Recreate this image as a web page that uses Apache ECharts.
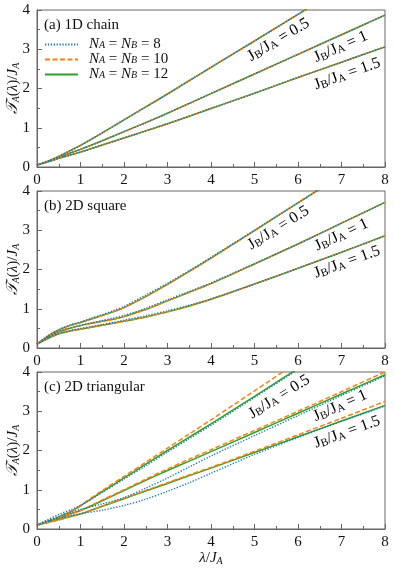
<!DOCTYPE html>
<html>
<head>
<meta charset="utf-8">
<script src="https://cdn.jsdelivr.net/npm/echarts@6/dist/echarts.min.js"></script>
<style>
html, body { margin: 0; padding: 0; background: #fff; }
#chart { width: 394px; height: 573px; }
</style>
</head>
<body>
<div id="chart"></div>
<script>
// x grids (lambda / J_A)
const xChain = [0, 0.25, 0.5, 0.75, 1, 1.5, 2, 2.5, 3, 4, 5, 6, 7, 8]
const xSquare = [0, 0.25, 0.5, 0.75, 1, 1.25, 1.5, 1.75, 2, 2.5, 3, 3.5, 4, 5, 6, 7, 8]
const xTri = [0, 0.25, 0.5, 0.8, 1, 1.5, 2, 2.5, 3, 3.5, 4, 5, 6, 7, 8]

// (a) 1D chain - the three system sizes lie on top of each other
const chainJ05 = [0.05, 0.15, 0.27, 0.41, 0.55, 0.87, 1.2, 1.53, 1.86, 2.54, 3.21, 3.89, 4.57, 5.25]
const chainJ1 = [0.05, 0.14, 0.24, 0.35, 0.45, 0.67, 0.9, 1.13, 1.37, 1.87, 2.37, 2.87, 3.37, 3.87]
const chainJ15 = [0.05, 0.13, 0.22, 0.3, 0.38, 0.56, 0.74, 0.92, 1.1, 1.49, 1.88, 2.28, 2.67, 3.06]

// (b) 2D square
const sqJ05_N12 = [0.1, 0.3, 0.46, 0.57, 0.65, 0.74, 0.83, 0.92, 1.03, 1.31, 1.62, 1.95, 2.29, 2.99, 3.7, 4.4, 5.1]
const sqJ05_N8 = [0.1, 0.31, 0.47, 0.58, 0.66, 0.76, 0.85, 0.95, 1.06, 1.35, 1.65, 1.97, 2.31, 3.0, 3.7, 4.4, 5.1]
const sqJ1_N12 = [0.1, 0.27, 0.41, 0.5, 0.57, 0.63, 0.68, 0.73, 0.8, 0.98, 1.2, 1.42, 1.64, 2.14, 2.65, 3.18, 3.71]
const sqJ1_N8 = [0.1, 0.28, 0.42, 0.51, 0.58, 0.64, 0.7, 0.76, 0.83, 1.01, 1.23, 1.44, 1.66, 2.15, 2.65, 3.18, 3.71]
const sqJ15_N12 = [0.1, 0.24, 0.36, 0.43, 0.48, 0.53, 0.58, 0.63, 0.68, 0.79, 0.92, 1.07, 1.24, 1.63, 2.03, 2.44, 2.86]
const sqJ15_N8 = [0.1, 0.25, 0.37, 0.44, 0.5, 0.55, 0.6, 0.65, 0.71, 0.82, 0.95, 1.09, 1.25, 1.63, 2.03, 2.44, 2.86]

// (c) 2D triangular
const triJ05_N8 = [0.1, 0.24, 0.37, 0.5, 0.6, 0.93, 1.27, 1.61, 1.96, 2.3, 2.64, 3.35, 4.06, 4.77, 5.48]
const triJ05_N10 = [0.1, 0.19, 0.29, 0.45, 0.6, 0.98, 1.34, 1.7, 2.06, 2.42, 2.78, 3.52, 4.26, 5.0, 5.74]
const triJ05_N12 = [0.1, 0.2, 0.31, 0.46, 0.59, 0.95, 1.3, 1.65, 2.0, 2.34, 2.68, 3.38, 4.09, 4.8, 5.5]
const triJ1_N8 = [0.1, 0.21, 0.32, 0.43, 0.5, 0.64, 0.8, 1.04, 1.3, 1.58, 1.86, 2.38, 2.89, 3.4, 3.9]
const triJ1_N10 = [0.1, 0.18, 0.27, 0.39, 0.47, 0.74, 1.0, 1.27, 1.53, 1.78, 2.02, 2.51, 3.0, 3.5, 4.0]
const triJ1_N12 = [0.1, 0.19, 0.28, 0.4, 0.47, 0.72, 0.98, 1.24, 1.49, 1.73, 1.97, 2.46, 2.95, 3.44, 3.93]
const triJ15_N8 = [0.1, 0.19, 0.27, 0.35, 0.39, 0.48, 0.6, 0.76, 0.96, 1.18, 1.42, 1.9, 2.33, 2.74, 3.13]
const triJ15_N10 = [0.1, 0.16, 0.23, 0.32, 0.38, 0.58, 0.78, 0.98, 1.18, 1.38, 1.57, 1.98, 2.4, 2.82, 3.25]
const triJ15_N12 = [0.1, 0.17, 0.24, 0.33, 0.38, 0.58, 0.77, 0.97, 1.16, 1.36, 1.55, 1.95, 2.35, 2.75, 3.15]

const panelTitles = ['(a) 1D chain', '(b) 2D square', '(c) 2D triangular']
const ratioLabels = ['0.5', '1', '1.5']
// label anchor in data coords [x, y, angle deg], per panel
const labelSpots = [
  [[5.55, 3.24, 31], [6.98, 3.06, 24], [7.13, 2.37, 19.5]],
  [[5.55, 3.06, 32], [7.0, 2.88, 25], [7.13, 2.19, 20]],
  [[5.57, 3.37, 32], [6.97, 3.14, 24], [7.13, 2.47, 20]]
]

const FONT = 'Liberation Serif'
const AXIS_COLOR = '#666'
const styles = {
  N8: { color: '#1f77b4', type: [1.3, 1.6], width: 1.4, z: 4 },
  N10: { color: '#ff7f0e', type: [5, 2.5], width: 1.5, z: 3 },
  N12: { color: '#2ca02c', type: 'solid', width: 1.5, z: 2 }
}
const legendText = {
  N8: '{i|N}{s|A}{r| = }{i|N}{s|B}{r| = 8}',
  N10: '{i|N}{s|A}{r| = }{i|N}{s|B}{r| = 10}',
  N12: '{i|N}{s|A}{r| = }{i|N}{s|B}{r| = 12}'
}

const rich = {
  r: { fontFamily: FONT, fontSize: 15, lineHeight: 16, color: '#111' },
  i: { fontFamily: FONT, fontSize: 15, lineHeight: 16, fontStyle: 'italic', color: '#111' },
  c: { fontFamily: FONT, fontSize: 16, lineHeight: 16, fontStyle: 'italic', color: '#111' },
  s: { fontFamily: FONT, fontSize: 10, lineHeight: 10, verticalAlign: 'bottom', color: '#111' },
  si: { fontFamily: FONT, fontSize: 10, lineHeight: 10, fontStyle: 'italic', verticalAlign: 'bottom', color: '#111' }
}
const labelRich = {
  r: { fontFamily: FONT, fontSize: 16, lineHeight: 16, color: '#111' },
  s: { fontFamily: FONT, fontSize: 11, lineHeight: 10, verticalAlign: 'bottom', color: '#111' }
}

const pair = (xs, ys) => xs.map((x, k) => [x, ys[k]])

const panels = [
  { xs: xChain, groups: [[chainJ05, chainJ05, chainJ05], [chainJ1, chainJ1, chainJ1], [chainJ15, chainJ15, chainJ15]] },
  { xs: xSquare, groups: [[sqJ05_N8, sqJ05_N12, sqJ05_N12], [sqJ1_N8, sqJ1_N12, sqJ1_N12], [sqJ15_N8, sqJ15_N12, sqJ15_N12]] },
  { xs: xTri, groups: [[triJ05_N8, triJ05_N10, triJ05_N12], [triJ1_N8, triJ1_N10, triJ1_N12], [triJ15_N8, triJ15_N10, triJ15_N12]] }
]

const gridTops = [10, 191, 372]
const grids = gridTops.map(t => ({
  left: 37, right: 9, top: t, height: 157,
  outerBoundsMode: 'none', containLabel: false,
  show: true, borderColor: AXIS_COLOR, borderWidth: 1, backgroundColor: 'transparent'
}))

const xAxes = gridTops.map((t, i) => ({
  type: 'value', gridIndex: i, min: 0, max: 8, interval: 1,
  axisLine: { lineStyle: { color: AXIS_COLOR } },
  axisTick: { inside: true, length: 5, lineStyle: { color: AXIS_COLOR } },
  minorTick: { show: true, splitNumber: 2, length: 3, lineStyle: { color: AXIS_COLOR } },
  splitLine: { show: false },
  axisLabel: { fontFamily: FONT, fontSize: 15, color: '#111', margin: 6 },
  name: i === 2 ? '{i|λ}{r|/}{i|J}{si|A}' : '',
  nameLocation: 'middle', nameGap: 20,
  nameTextStyle: { rich }
}))

const yAxes = gridTops.map((t, i) => ({
  type: 'value', gridIndex: i, min: 0, max: 4, interval: 1,
  axisLine: { lineStyle: { color: AXIS_COLOR } },
  axisTick: { inside: true, length: 5, lineStyle: { color: AXIS_COLOR } },
  minorTick: { show: true, splitNumber: 2, length: 3, lineStyle: { color: AXIS_COLOR } },
  splitLine: { show: false },
  axisLabel: { fontFamily: FONT, fontSize: 15, color: '#111', margin: 7 },
  name: '{c|𝒯}{si|A}{r|(}{i|λ}{r|)/}{i|J}{si|A}',
  nameLocation: 'middle', nameRotate: 90, nameGap: 16, nameMoveOverlap: false,
  nameTextStyle: { rich }
}))

const series = []
panels.forEach((p, i) => {
  p.groups.forEach(g => {
    ;['N8', 'N10', 'N12'].forEach((n, k) => {
      const st = styles[n]
      series.push({
        name: n, type: 'line', xAxisIndex: i, yAxisIndex: i,
        data: pair(p.xs, g[k]),
        smooth: 0.3, symbol: 'none', z: st.z, silent: true,
        lineStyle: { color: st.color, type: st.type, width: st.width },
        itemStyle: { color: st.color }
      })
    })
  })
})

const chart = echarts.init(document.getElementById('chart'))
chart.setOption({
  animation: false,
  title: panelTitles.map((txt, i) => ({
    text: txt, left: 39, top: gridTops[i] + 3,
    textStyle: { fontFamily: FONT, fontSize: 15, fontWeight: 'normal', color: '#111' }
  })),
  legend: {
    data: ['N8', 'N10', 'N12'], orient: 'vertical', left: 44, top: 37,
    itemWidth: 33, itemHeight: 11, itemGap: 0, padding: 0,
    itemStyle: { opacity: 0 },
    formatter: n => legendText[n],
    textStyle: { padding: [0, 0, 0, 6], fontSize: 11, lineHeight: 11, rich: {
      r: { fontFamily: FONT, fontSize: 15, lineHeight: 11, color: '#111' },
      i: { fontFamily: FONT, fontSize: 15, lineHeight: 11, fontStyle: 'italic', color: '#111' },
      s: { fontFamily: FONT, fontSize: 10, lineHeight: 5, fontStyle: 'italic', verticalAlign: 'bottom', color: '#111' }
    } }
  },
  grid: grids,
  xAxis: xAxes,
  yAxis: yAxes,
  series
})

// ratio labels along the curves
const labels = []
labelSpots.forEach((spots, i) => {
  spots.forEach((s, k) => {
    const [px, py] = chart.convertToPixel({ gridIndex: i }, [s[0], s[1]])
    labels.push({
      type: 'text', x: px, y: py, rotation: s[2] * Math.PI / 180, z: 10,
      style: {
        text: '{r|J}{s|B}{r|/J}{s|A}{r| = ' + ratioLabels[k] + '}',
        align: 'center', verticalAlign: 'middle', rich: labelRich
      }
    })
  })
})
chart.setOption({ graphic: labels })

window.addEventListener('resize', () => chart.resize())
</script>
</body>
</html>
